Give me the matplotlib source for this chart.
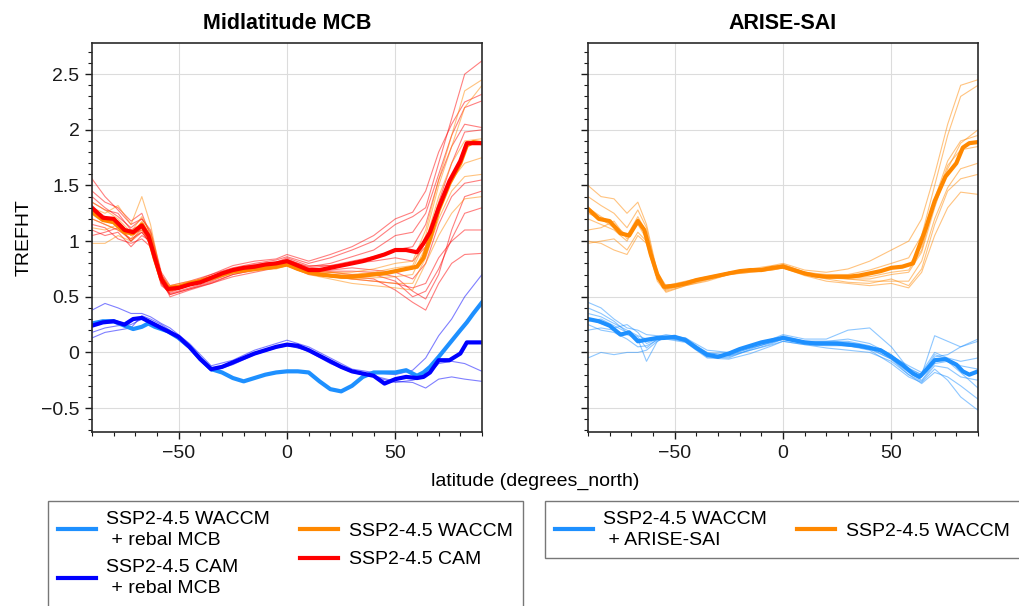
import matplotlib
matplotlib.use("Agg")
import matplotlib.pyplot as plt
from matplotlib.lines import Line2D
from matplotlib.ticker import MultipleLocator

plt.rcParams['font.family'] = ['Liberation Sans', 'DejaVu Sans']

# ---------------- data ----------------
lat = [-90, -85, -80, -75, -71, -67, -64, -61, -58, -55, -50, -45, -40, -35, -30, -25, -20,
       -15, -10, -5, 0, 5, 10, 15, 20, 25, 30, 35, 40, 45, 50, 55, 60, 63, 66, 70, 75, 80, 83, 86, 90]

mcb_cam_mean = [1.30, 1.21, 1.20, 1.10, 1.08, 1.14, 1.05, 0.85, 0.66, 0.57, 0.58, 0.61, 0.63, 0.67, 0.71, 0.74,
                0.76, 0.77, 0.79, 0.80, 0.82, 0.78, 0.74, 0.74, 0.76, 0.78, 0.80, 0.82, 0.85, 0.88, 0.92, 0.92,
                0.90, 0.98, 1.08, 1.30, 1.54, 1.72, 1.88, 1.88, 1.88]
mcb_waccm_mean = [1.26, 1.19, 1.17, 1.08, 1.07, 1.15, 1.05, 0.84, 0.66, 0.58, 0.59, 0.62, 0.64, 0.67, 0.70, 0.73,
                  0.74, 0.75, 0.76, 0.77, 0.79, 0.75, 0.72, 0.70, 0.69, 0.68, 0.68, 0.69, 0.70, 0.71, 0.73, 0.75,
                  0.77, 0.85, 1.02, 1.28, 1.52, 1.70, 1.86, 1.89, 1.88]
mcb_cam_rebal_mean = [0.24, 0.27, 0.28, 0.25, 0.30, 0.31, 0.28, 0.25, 0.22, 0.19, 0.14, 0.05, -0.06, -0.15, -0.13,
                      -0.09, -0.05, -0.01, 0.02, 0.05, 0.07, 0.06, 0.02, -0.03, -0.08, -0.13, -0.17, -0.19, -0.21,
                      -0.28, -0.24, -0.22, -0.23, -0.22, -0.18, -0.07, -0.07, -0.01, 0.09, 0.09, 0.09]
mcb_waccm_rebal_mean = [0.26, 0.28, 0.28, 0.24, 0.21, 0.23, 0.26, 0.23, 0.21, 0.19, 0.13, 0.05, -0.06, -0.15, -0.18,
                        -0.23, -0.26, -0.23, -0.20, -0.18, -0.17, -0.17, -0.18, -0.26, -0.33, -0.35, -0.30, -0.22,
                        -0.18, -0.18, -0.18, -0.16, -0.21, -0.18, -0.13, -0.04, 0.08, 0.20, 0.27, 0.35, 0.45]
sai_waccm_mean = [1.29, 1.20, 1.18, 1.07, 1.05, 1.18, 1.10, 0.88, 0.70, 0.59, 0.60, 0.62, 0.65, 0.67, 0.69, 0.71,
                  0.73, 0.74, 0.74, 0.76, 0.77, 0.74, 0.71, 0.69, 0.68, 0.68, 0.68, 0.69, 0.71, 0.73, 0.76, 0.77,
                  0.80, 0.96, 1.12, 1.36, 1.58, 1.70, 1.84, 1.88, 1.89]
sai_arise_mean = [0.30, 0.28, 0.24, 0.16, 0.18, 0.10, 0.11, 0.12, 0.13, 0.13, 0.14, 0.11, 0.04, -0.02, -0.04, -0.01,
                  0.03, 0.06, 0.09, 0.11, 0.13, 0.11, 0.09, 0.08, 0.08, 0.08, 0.07, 0.06, 0.04, 0.02, -0.04, -0.11,
                  -0.19, -0.22, -0.16, -0.07, -0.06, -0.11, -0.17, -0.20, -0.17]

lat_m = [-90, -84, -78, -72, -67, -63, -58, -54, -45, -35, -25, -15, -5, 0, 10, 20, 30, 40, 50, 58, 64, 70, 76, 82, 90]

cam_members = [
    [1.45, 1.35, 1.30, 1.18, 1.25, 1.05, 0.70, 0.58, 0.62, 0.70, 0.76, 0.80, 0.83, 0.86, 0.80, 0.85, 0.92, 1.00, 1.15, 1.22, 1.30, 1.70, 2.10, 2.50, 2.62],
    [1.20, 1.15, 1.10, 1.02, 1.08, 0.98, 0.62, 0.52, 0.57, 0.62, 0.70, 0.74, 0.78, 0.80, 0.72, 0.70, 0.68, 0.66, 0.56, 0.45, 0.38, 0.62, 0.80, 0.88, 0.89],
    [1.56, 1.40, 1.28, 1.15, 1.20, 1.10, 0.72, 0.60, 0.64, 0.70, 0.78, 0.82, 0.84, 0.88, 0.82, 0.88, 0.95, 1.05, 1.20, 1.26, 1.45, 1.80, 2.05, 2.25, 2.32],
    [1.10, 1.05, 1.08, 0.95, 1.05, 1.00, 0.66, 0.50, 0.56, 0.62, 0.68, 0.72, 0.76, 0.78, 0.70, 0.68, 0.66, 0.64, 0.62, 0.58, 0.62, 0.85, 1.00, 1.10, 1.10],
    [1.35, 1.28, 1.25, 1.10, 1.15, 1.02, 0.64, 0.55, 0.60, 0.66, 0.72, 0.76, 0.80, 0.84, 0.76, 0.78, 0.82, 0.86, 0.92, 0.95, 1.15, 1.55, 1.85, 2.05, 2.02],
    [1.25, 1.18, 1.15, 1.00, 1.12, 0.95, 0.60, 0.54, 0.60, 0.65, 0.74, 0.76, 0.79, 0.82, 0.74, 0.74, 0.76, 0.74, 0.72, 0.66, 0.80, 1.15, 1.40, 1.52, 1.55],
    [1.40, 1.30, 1.22, 1.12, 1.20, 1.08, 0.70, 0.57, 0.61, 0.68, 0.74, 0.78, 0.80, 0.83, 0.77, 0.80, 0.86, 0.92, 1.05, 1.08, 1.25, 1.60, 1.95, 2.20, 2.26],
    [1.15, 1.12, 1.02, 0.98, 1.02, 0.95, 0.64, 0.53, 0.58, 0.64, 0.72, 0.75, 0.77, 0.80, 0.73, 0.72, 0.70, 0.70, 0.64, 0.50, 0.55, 0.75, 1.02, 1.25, 1.30],
    [1.30, 1.22, 1.18, 1.06, 1.10, 1.00, 0.66, 0.56, 0.62, 0.67, 0.75, 0.79, 0.81, 0.85, 0.78, 0.78, 0.80, 0.82, 0.85, 0.82, 0.95, 1.35, 1.70, 1.98, 2.00],
    [1.05, 1.08, 1.12, 1.00, 1.08, 0.98, 0.62, 0.52, 0.57, 0.63, 0.70, 0.74, 0.77, 0.80, 0.74, 0.73, 0.73, 0.72, 0.68, 0.55, 0.48, 0.70, 1.10, 1.40, 1.45],
]
waccm_members_mcb = [
    [1.30, 1.25, 1.32, 1.15, 1.40, 1.15, 0.68, 0.58, 0.63, 0.68, 0.73, 0.75, 0.77, 0.80, 0.72, 0.72, 0.72, 0.75, 0.80, 0.82, 1.10, 1.55, 1.95, 2.35, 2.45],
    [0.98, 0.98, 1.05, 1.00, 1.10, 1.00, 0.64, 0.55, 0.60, 0.65, 0.71, 0.73, 0.76, 0.78, 0.70, 0.66, 0.62, 0.60, 0.58, 0.56, 0.80, 1.05, 1.25, 1.38, 1.40],
    [1.20, 1.15, 1.10, 1.02, 1.18, 1.05, 0.66, 0.57, 0.61, 0.66, 0.72, 0.74, 0.75, 0.78, 0.71, 0.68, 0.66, 0.67, 0.68, 0.70, 0.95, 1.30, 1.55, 1.70, 1.75],
    [1.35, 1.28, 1.20, 1.08, 1.22, 1.08, 0.68, 0.60, 0.64, 0.68, 0.74, 0.76, 0.78, 0.80, 0.74, 0.72, 0.70, 0.72, 0.76, 0.78, 1.05, 1.50, 1.85, 2.20, 2.40],
    [1.12, 1.10, 1.15, 1.05, 1.12, 1.00, 0.64, 0.56, 0.60, 0.65, 0.71, 0.74, 0.76, 0.79, 0.71, 0.69, 0.66, 0.64, 0.62, 0.62, 0.85, 1.20, 1.45, 1.58, 1.60],
    [1.28, 1.20, 1.18, 1.05, 1.15, 1.04, 0.66, 0.58, 0.62, 0.67, 0.73, 0.75, 0.77, 0.79, 0.73, 0.70, 0.69, 0.70, 0.73, 0.75, 1.00, 1.40, 1.70, 1.90, 1.92],
]
cam_rebal_members = [
    [0.38, 0.44, 0.40, 0.35, 0.35, 0.32, 0.26, 0.22, 0.08, -0.12, -0.07, 0.02, 0.08, 0.11, 0.05, -0.05, -0.15, -0.18, -0.20, -0.16, -0.05, 0.15, 0.30, 0.50, 0.70],
    [0.13, 0.18, 0.20, 0.22, 0.33, 0.30, 0.25, 0.20, 0.04, -0.16, -0.10, 0.00, 0.05, 0.07, 0.01, -0.10, -0.18, -0.22, -0.27, -0.25, -0.22, -0.10, -0.08, -0.10, -0.17],
    [0.18, 0.22, 0.24, 0.25, 0.30, 0.28, 0.23, 0.18, 0.03, -0.17, -0.11, -0.02, 0.04, 0.06, 0.02, -0.08, -0.17, -0.21, -0.26, -0.27, -0.32, -0.24, -0.22, -0.24, -0.26],
]
waccm_members_sai = [
    [1.50, 1.40, 1.38, 1.25, 1.35, 1.15, 0.72, 0.60, 0.64, 0.68, 0.72, 0.75, 0.78, 0.80, 0.74, 0.72, 0.75, 0.82, 0.92, 1.00, 1.20, 1.60, 2.05, 2.40, 2.45],
    [0.98, 1.00, 1.02, 0.92, 1.08, 1.00, 0.66, 0.55, 0.60, 0.64, 0.70, 0.72, 0.74, 0.76, 0.69, 0.64, 0.62, 0.60, 0.62, 0.58, 0.72, 1.05, 1.30, 1.44, 1.42],
    [1.40, 1.32, 1.25, 1.12, 1.28, 1.12, 0.70, 0.58, 0.63, 0.67, 0.72, 0.74, 0.76, 0.79, 0.72, 0.70, 0.70, 0.74, 0.80, 0.85, 1.05, 1.50, 1.95, 2.30, 2.40],
    [1.20, 1.15, 1.10, 1.00, 1.18, 1.05, 0.66, 0.56, 0.61, 0.66, 0.71, 0.73, 0.75, 0.77, 0.70, 0.67, 0.66, 0.66, 0.70, 0.72, 0.90, 1.30, 1.65, 1.88, 2.00],
    [1.10, 1.12, 1.18, 1.02, 1.15, 1.02, 0.66, 0.57, 0.61, 0.66, 0.71, 0.73, 0.75, 0.77, 0.71, 0.68, 0.66, 0.64, 0.64, 0.64, 0.82, 1.20, 1.48, 1.65, 1.70],
    [1.30, 1.22, 1.15, 1.05, 1.20, 1.06, 0.68, 0.58, 0.62, 0.67, 0.72, 0.74, 0.76, 0.78, 0.71, 0.69, 0.68, 0.70, 0.76, 0.78, 0.95, 1.38, 1.72, 1.90, 1.95],
    [1.00, 0.98, 0.92, 0.88, 1.05, 0.98, 0.64, 0.54, 0.60, 0.65, 0.70, 0.72, 0.74, 0.76, 0.70, 0.66, 0.63, 0.62, 0.66, 0.60, 0.75, 1.15, 1.45, 1.56, 1.60],
    [1.25, 1.20, 1.12, 1.05, 1.22, 1.08, 0.67, 0.57, 0.62, 0.67, 0.72, 0.74, 0.77, 0.79, 0.72, 0.68, 0.67, 0.68, 0.72, 0.74, 0.92, 1.35, 1.68, 1.82, 1.85],
]
arise_members = [
    [0.45, 0.40, 0.30, 0.22, 0.20, 0.16, 0.15, 0.15, 0.13, 0.02, 0.00, 0.06, 0.12, 0.16, 0.12, 0.12, 0.20, 0.22, 0.05, -0.15, -0.20, 0.15, 0.10, 0.05, 0.12],
    [-0.05, 0.00, -0.02, 0.00, 0.00, 0.02, 0.10, 0.14, 0.12, 0.00, -0.03, 0.02, 0.07, 0.10, 0.07, 0.06, 0.06, 0.02, -0.10, -0.22, -0.27, -0.15, -0.25, -0.40, -0.52],
    [0.40, 0.35, 0.28, 0.18, 0.12, -0.08, 0.10, 0.14, 0.12, -0.04, -0.05, 0.03, 0.10, 0.14, 0.10, 0.10, 0.12, 0.08, -0.02, -0.16, -0.22, -0.04, -0.02, 0.05, 0.10],
    [0.30, 0.26, 0.22, 0.25, 0.18, 0.08, 0.12, 0.13, 0.10, -0.03, -0.02, 0.04, 0.09, 0.12, 0.08, 0.07, 0.06, 0.03, -0.06, -0.18, -0.25, -0.10, -0.08, -0.18, -0.32],
    [0.25, 0.20, 0.18, 0.12, 0.05, 0.06, 0.11, 0.12, 0.09, -0.05, -0.06, -0.01, 0.06, 0.10, 0.07, 0.04, 0.02, 0.00, -0.08, -0.20, -0.26, -0.12, -0.14, -0.22, -0.25],
    [0.35, 0.32, 0.26, 0.20, 0.15, 0.12, 0.14, 0.16, 0.13, -0.01, 0.00, 0.06, 0.10, 0.15, 0.10, 0.10, 0.10, 0.06, -0.03, -0.12, -0.18, 0.00, -0.05, -0.08, -0.05],
    [0.20, 0.22, 0.20, 0.16, 0.12, 0.10, 0.12, 0.13, 0.10, -0.04, -0.04, 0.02, 0.08, 0.12, 0.08, 0.08, 0.06, 0.04, -0.06, -0.20, -0.28, -0.18, -0.22, -0.30, -0.42],
    [0.28, 0.30, 0.24, 0.18, 0.14, 0.04, 0.12, 0.14, 0.11, -0.03, -0.03, 0.04, 0.09, 0.13, 0.09, 0.09, 0.09, 0.05, -0.04, -0.14, -0.20, -0.02, -0.06, -0.12, -0.15],
]

panel_titles = ["Midlatitude MCB", "ARISE-SAI"]
xticks = [-50, 0, 50]
xtick_labels = ["\u221250", "0", "50"]
yticks = [-0.5, 0, 0.5, 1, 1.5, 2, 2.5]
ytick_labels = ["\u22120.5", "0", "0.5", "1", "1.5", "2", "2.5"]
legend_labels_left = ["SSP2-4.5 WACCM\n + rebal MCB", "SSP2-4.5 CAM\n + rebal MCB",
                      "SSP2-4.5 WACCM", "SSP2-4.5 CAM"]
legend_labels_right = ["SSP2-4.5 WACCM\n + ARISE-SAI", "SSP2-4.5 WACCM"]

# ---------------- styles ----------------
C_RED = "#ff0000"
C_ORANGE = "#ff8800"
C_BLUE = "#0000ff"
C_LBLUE = "#1e90ff"
THIN = dict(lw=0.8, alpha=0.5)
THICK = dict(lw=3.0)
FS = 14

W, H = 1020, 606
fig = plt.figure(figsize=(W / 100, H / 100), dpi=100)
ax1 = fig.add_axes([92 / W, 1 - 432 / H, 390 / W, 389 / H])
ax2 = fig.add_axes([588 / W, 1 - 432 / H, 390 / W, 389 / H], sharey=ax1)

# left panel
for m in cam_members:
    ax1.plot(lat_m, m, color=C_RED, **THIN)
for m in waccm_members_mcb:
    ax1.plot(lat_m, m, color=C_ORANGE, **THIN)
for m in cam_rebal_members:
    ax1.plot(lat_m, m, color=C_BLUE, **THIN)
ax1.plot(lat, mcb_waccm_rebal_mean, color=C_LBLUE, **THICK)
ax1.plot(lat, mcb_cam_rebal_mean, color=C_BLUE, **THICK)
ax1.plot(lat, mcb_waccm_mean, color=C_ORANGE, **THICK)
ax1.plot(lat, mcb_cam_mean, color=C_RED, **THICK)

# right panel
for m in waccm_members_sai:
    ax2.plot(lat_m, m, color=C_ORANGE, **THIN)
for m in arise_members:
    ax2.plot(lat_m, m, color=C_LBLUE, **THIN)
ax2.plot(lat, sai_arise_mean, color=C_LBLUE, **THICK)
ax2.plot(lat, sai_waccm_mean, color=C_ORANGE, **THICK)

for ax, title in zip([ax1, ax2], panel_titles):
    ax.set_xlim(-90, 90)
    ax.set_ylim(-0.715, 2.78)
    ax.set_xticks(xticks)
    ax.set_xticklabels(xtick_labels)
    ax.xaxis.set_minor_locator(MultipleLocator(10))
    ax.yaxis.set_minor_locator(MultipleLocator(0.1))
    ax.set_yticks(yticks)
    ax.grid(True, which="major", color="#dcdcdc", lw=0.8)
    ax.set_axisbelow(True)
    ax.tick_params(which="major", direction="out", length=5, width=1, labelsize=FS, colors="#1a1a1a", pad=4)
    ax.tick_params(which="minor", direction="out", length=3, width=0.8, colors="#1a1a1a")
    ax.tick_params(top=False, right=False, which="both")
    for s in ax.spines.values():
        s.set_color("#2a2a2a")
        s.set_linewidth(1.2)
    ax.set_title(title, fontsize=15.5, fontweight="bold", pad=10)

ax1.set_yticklabels(ytick_labels)
plt.setp(ax2.get_yticklabels(), visible=False)
ax1.set_ylabel("TREFHT", fontsize=FS, labelpad=6)
fig.text(535 / W, 1 - 481 / H, "latitude (degrees_north)", ha="center", va="center", fontsize=FS)

# legends
def h(c):
    return Line2D([], [], color=c, lw=3)

common = dict(loc="upper left", ncol=2, fontsize=FS, frameon=True, fancybox=False,
              edgecolor="#555555", handlelength=1.95, handletextpad=0.55, columnspacing=1.55,
              borderpad=0.5, labelspacing=0.55, borderaxespad=0)
leg1 = fig.legend([h(C_LBLUE), h(C_BLUE), h(C_ORANGE), h(C_RED)], legend_labels_left,
                  bbox_to_anchor=(48 / W, 1 - 501 / H), **common)
leg2 = fig.legend([h(C_LBLUE), h(C_ORANGE)], legend_labels_right,
                  bbox_to_anchor=(545 / W, 1 - 501 / H), **common)
for leg in (leg1, leg2):
    leg.get_frame().set_linewidth(1.0)
    for t in leg.get_texts():
        t.set_linespacing(1.3)

fig.savefig("out.png", dpi=100)
